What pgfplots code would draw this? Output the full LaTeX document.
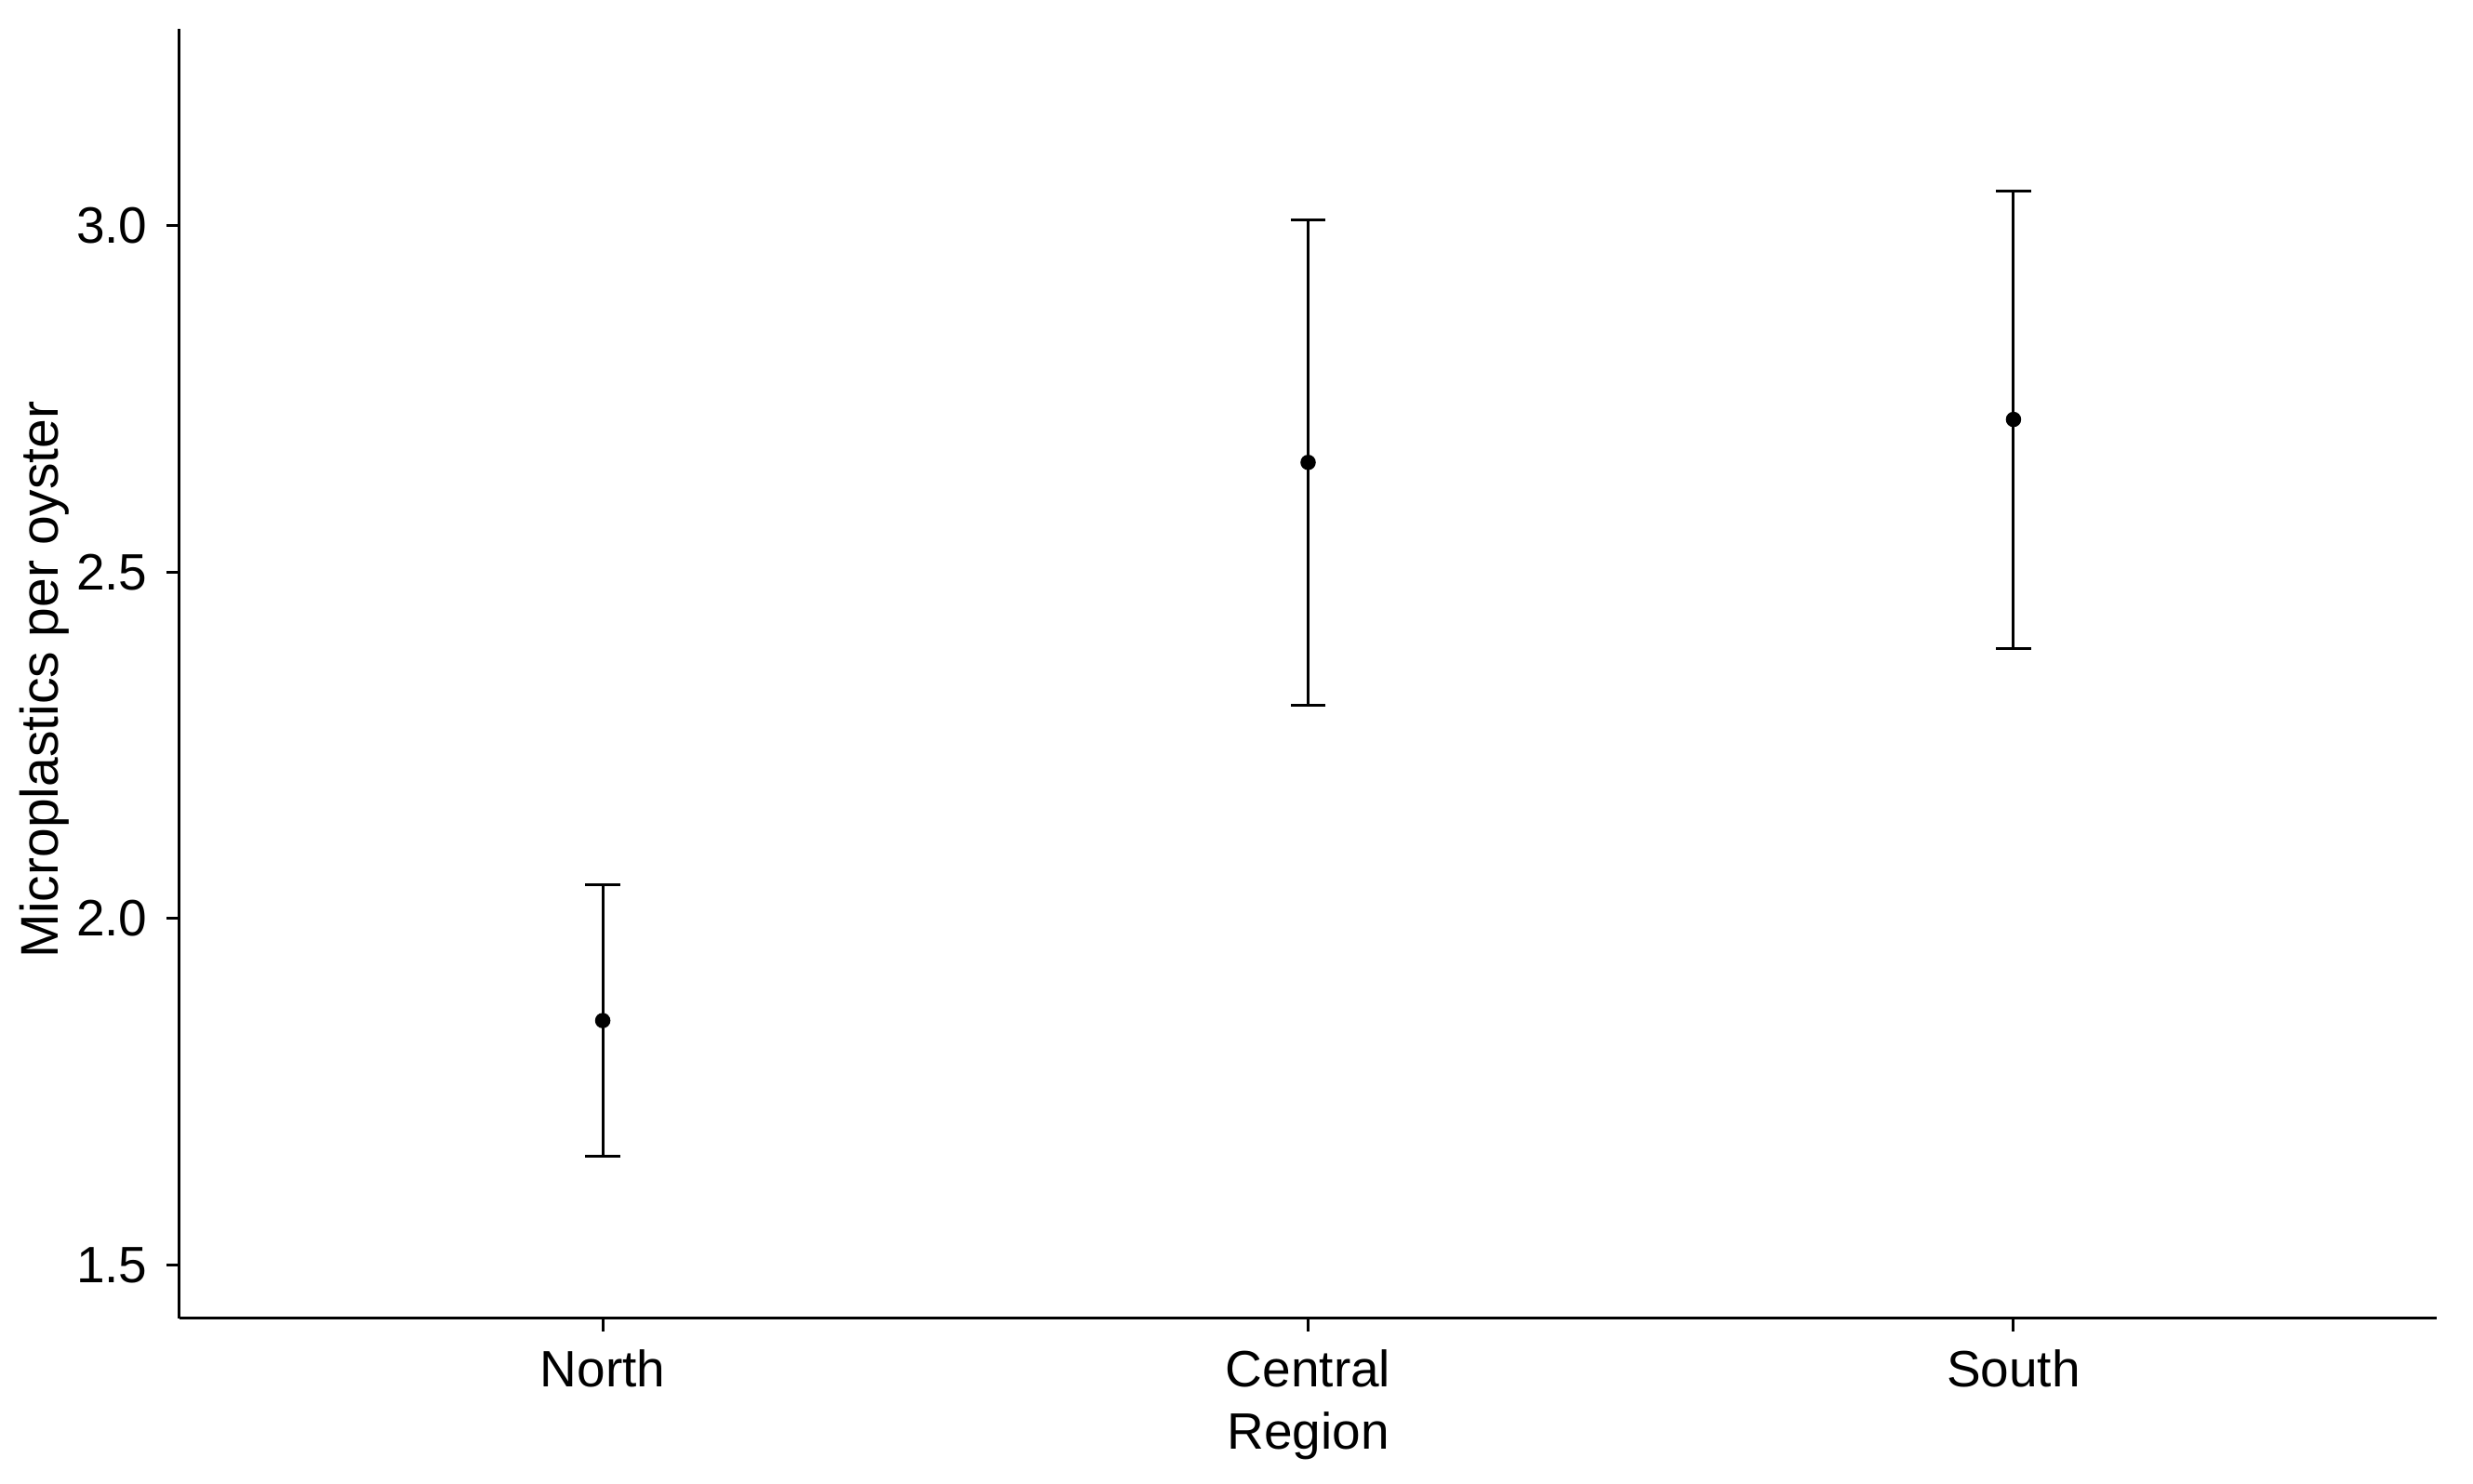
\documentclass[border=0pt]{standalone}
\usepackage{pgfplots}
\pgfplotsset{compat=1.18}
\usepackage{pgfplotstable}
\usepackage{fontspec}
\setmainfont{Liberation Sans}
\pgfplotstableread{
x y e
0 1.853 0.196
1 2.658 0.350
2 2.720 0.330
}\datatab
\begin{document}
\begin{tikzpicture}
\begin{axis}[
  scale only axis,
  width=485.4pt, height=277.4pt,
  xmin=-0.6, xmax=2.6,
  ymin=1.424, ymax=3.284,
  axis lines=left,
  axis line style={line width=0.6pt, -},
  xtick={0,1,2},
  xticklabels={North,Central,South},
  ytick={1.5,2.0,2.5,3.0},
  yticklabels={1.5,2.0,2.5,3.0},
  tick align=outside,
  major tick length=2.8pt,
  tick style={line width=0.6pt, black},
  font=\fontsize{11}{13}\selectfont,
  xticklabel style={anchor=base, yshift=-11.9pt, inner sep=0pt},
  yticklabel style={anchor=east, inner sep=0pt, xshift=-3.9pt},
  xlabel={Region},
  ylabel={Microplastics per oyster},
  xlabel style={at={(axis description cs:0.5,-0.1017)}, anchor=base, inner sep=0pt},
  ylabel style={at={(axis description cs:-0.0536,0.495)}, anchor=base, inner sep=0pt, font=\fontsize{11.4}{13}\selectfont},
  clip=false,
]
\addplot[black, only marks, mark=*, mark size=1.45pt,
  error bars/.cd, y dir=both, y explicit,
  error bar style={line width=0.6pt, black},
  error mark options={line width=0.6pt, mark size=3.77pt, rotate=90}]
  table[x=x, y=y, y error=e] {\datatab};
\end{axis}
\pgfresetboundingbox
\path ([xshift=-38.6pt,yshift=-35.6pt]current axis.south west) rectangle ([xshift=7.8pt,yshift=6.1pt]current axis.north east);
\end{tikzpicture}
\end{document}
